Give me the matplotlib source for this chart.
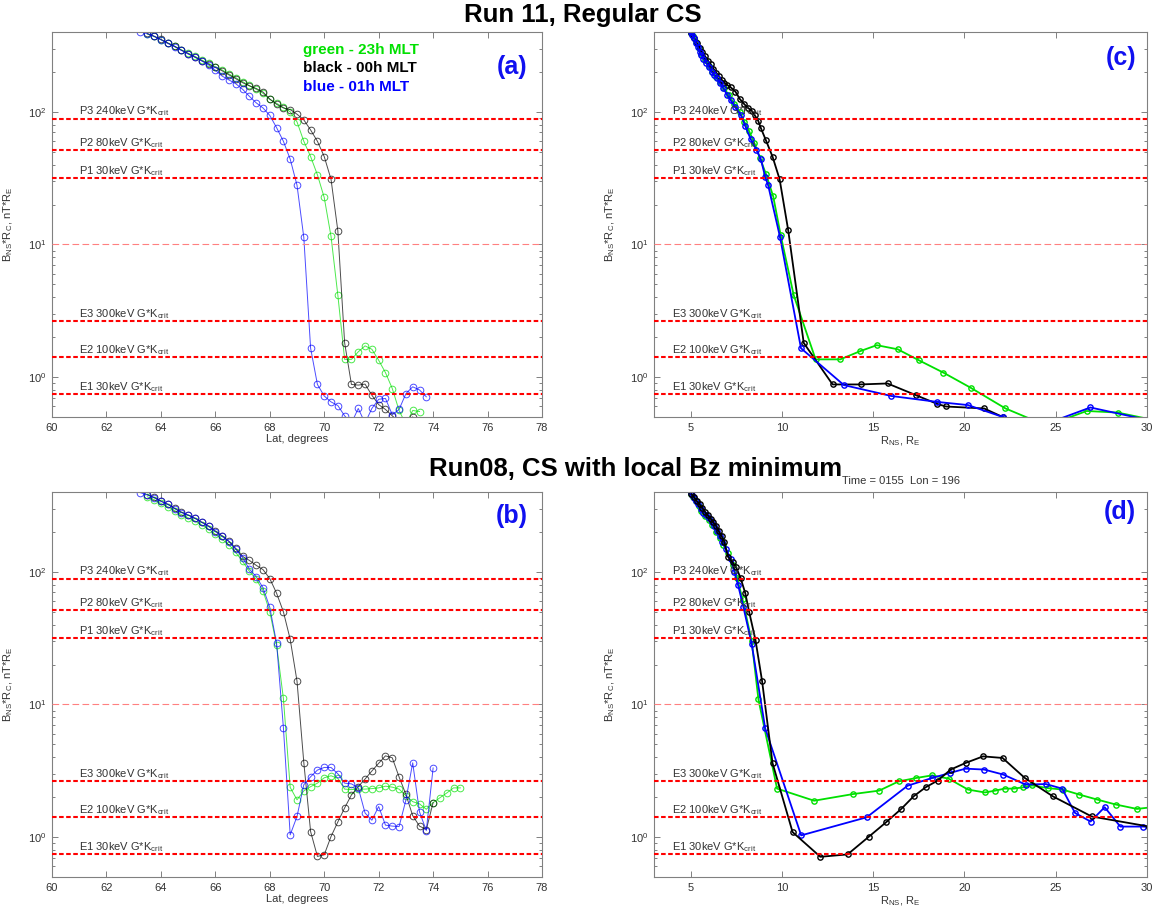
import matplotlib
matplotlib.use("Agg")
import matplotlib.pyplot as plt
from matplotlib.ticker import LogLocator, NullFormatter, FixedLocator

plt.rcParams['font.family'] = ['Liberation Sans', 'DejaVu Sans']
plt.rcParams['mathtext.default'] = 'regular'

# ---------------- data ----------------
# thresholds (G*K_crit levels)
level_names = ["P3 240keV G*K", "P2 80keV G*K", "P1 30keV G*K",
               "E3 300keV G*K", "E2 100keV G*K", "E1 30keV G*K"]
level_values = [89, 51.4, 31.5, 2.64, 1.41, 0.745]
mid_level = 10

# Panel (a): Run 11, latitude
lat_a_green = [63.5, 63.75, 64.0, 64.25, 64.5, 64.75, 65.0, 65.25, 65.5, 65.75, 66.0, 66.25,
               66.5, 66.75, 67.0, 67.25, 67.5, 67.75, 68.0, 68.25, 68.5, 68.75, 69.0, 69.25,
               69.5, 69.75, 70.0, 70.25, 70.5, 70.75, 71.0, 71.25, 71.5, 71.75, 72.0, 72.25,
               72.5, 72.75, 73.0, 73.25, 73.5]
val_a_green = [386, 370, 350, 330, 313, 294, 277, 262, 246, 232, 219, 207,
               193, 181, 169, 158, 148, 138, 124, 116, 108, 100, 84, 60,
               46, 33.5, 22.6, 11.5, 4.15, 1.36, 1.36, 1.55, 1.72, 1.62, 1.34, 1.08,
               0.82, 0.56, 0.44, 0.56, 0.55]
lat_a_black = [63.5, 63.75, 64.0, 64.25, 64.5, 64.75, 65.0, 65.25, 65.5, 65.75, 66.0, 66.25,
               66.5, 66.75, 67.0, 67.25, 67.5, 67.75, 68.0, 68.25, 68.5, 68.75, 69.0, 69.25,
               69.5, 69.75, 70.0, 70.25, 70.5, 70.75, 71.0, 71.25, 71.5, 71.75, 72.0, 72.25,
               72.5, 72.75, 73.0, 73.25]
val_a_black = [390, 372, 352, 331, 312, 292, 275, 259, 243, 229, 216, 204,
               190, 178, 166, 157, 150, 141, 125, 114, 107, 104, 96, 87,
               73, 60, 46, 31, 12.7, 1.81, 0.88, 0.87, 0.885, 0.73, 0.62, 0.57,
               0.51, 0.46, 0.46, 0.50]
lat_a_blue = [63.25, 63.5, 63.75, 64.0, 64.25, 64.5, 64.75, 65.0, 65.25, 65.5, 65.75, 66.0,
              66.25, 66.5, 66.75, 67.0, 67.25, 67.5, 67.75, 68.0, 68.25, 68.5, 68.75, 69.0,
              69.25, 69.5, 69.75, 70.0, 70.25, 70.5, 70.75, 71.0, 71.25, 71.5, 71.75, 72.0,
              72.25, 72.5, 72.75, 73.0, 73.25, 73.5, 73.75]
val_a_blue = [401, 388, 371, 350, 328, 310, 291, 273, 258, 242, 226, 206,
              186, 174, 163, 148, 131, 117, 107, 94, 76, 60, 44, 28,
              11.3, 1.65, 0.88, 0.72, 0.65, 0.61, 0.51, 0.45, 0.58, 0.45, 0.58, 0.68,
              0.69, 0.52, 0.57, 0.75, 0.845, 0.80, 0.71]

# Panel (b): Run08, latitude
lat_b_green = [63.5, 63.75, 64.0, 64.25, 64.5, 64.75, 65.0, 65.25, 65.5, 65.75, 66.0, 66.25,
               66.5, 66.75, 67.0, 67.25, 67.5, 67.75, 68.0, 68.25, 68.5, 68.75, 69.0, 69.25,
               69.5, 69.75, 70.0, 70.25, 70.5, 70.75, 71.0, 71.25, 71.5, 71.75, 72.0, 72.25,
               72.5, 72.75, 73.0, 73.25, 73.5, 73.75, 74.0, 74.25, 74.5, 74.75, 75.0]
val_b_green = [368, 350, 328, 310, 290, 270, 256, 242, 226, 210, 192, 176,
               160, 140, 120, 101, 88, 72, 50, 28, 11.1, 2.37, 1.91, 2.23,
               2.4, 2.55, 2.8, 2.9, 2.77, 2.3, 2.28, 2.3, 2.3, 2.32, 2.35, 2.42,
               2.38, 2.3, 2.05, 1.85, 1.78, 1.62, 1.82, 1.98, 2.15, 2.35, 2.35]
lat_b_black = [63.5, 63.75, 64.0, 64.25, 64.5, 64.75, 65.0, 65.25, 65.5, 65.75, 66.0, 66.25,
               66.5, 66.75, 67.0, 67.25, 67.5, 67.75, 68.0, 68.25, 68.5, 68.75, 69.0, 69.25,
               69.5, 69.75, 70.0, 70.25, 70.5, 70.75, 71.0, 71.25, 71.5, 71.75, 72.0, 72.25,
               72.5, 72.75, 73.0, 73.25, 73.5, 73.75, 74.0]
val_b_black = [382, 364, 342, 324, 302, 282, 268, 254, 237, 222, 203, 187,
               170, 150, 131, 122, 112, 104, 89, 69, 50, 31, 15, 3.65,
               1.1, 0.715, 0.735, 1.01, 1.3, 1.66, 2.08, 2.4, 2.74, 3.15, 3.6, 4.1,
               3.96, 2.84, 2.1, 1.45, 1.21, 1.14, 1.82]
lat_b_blue = [63.25, 63.5, 63.75, 64.0, 64.25, 64.5, 64.75, 65.0, 65.25, 65.5, 65.75, 66.0,
              66.25, 66.5, 66.75, 67.0, 67.25, 67.5, 67.75, 68.0, 68.25, 68.5, 68.75, 69.0,
              69.25, 69.5, 69.75, 70.0, 70.25, 70.5, 70.75, 71.0, 71.25, 71.5, 71.75, 72.0,
              72.25, 72.5, 72.75, 73.0, 73.25, 73.5, 73.75, 74.0]
val_b_blue = [395, 380, 362, 340, 323, 300, 280, 268, 253, 236, 220, 201,
              185, 169, 148, 128, 105, 92, 76, 54, 29, 6.7, 1.04, 1.43,
              2.48, 2.85, 3.2, 3.35, 3.35, 3.0, 2.55, 2.52, 2.35, 1.52, 1.34, 1.7,
              1.23, 1.21, 1.2, 1.9, 3.63, 1.55, 1.12, 3.32]

# Panel (c): Run 11, R_NS
r_c_green = [5.0, 5.15, 5.3, 5.45, 5.6, 5.8, 6.0, 6.2, 6.4, 6.6, 6.85, 7.1, 7.4, 7.7, 7.95,
             8.2, 8.5, 8.8, 9.13, 9.53, 9.94, 10.65, 11.85, 13.2, 14.3, 15.2, 16.35, 17.5,
             18.85, 20.35, 22.25, 24.5, 26.7, 28.4, 30.5]
val_c_green = [395, 370, 338, 305, 275, 245, 222, 200, 183, 168, 150, 133, 115, 100, 84,
               72, 58, 45, 34, 23, 11.7, 4.15, 1.36, 1.36, 1.57, 1.74, 1.62, 1.34,
               1.08, 0.83, 0.58, 0.43, 0.555, 0.54, 0.47]
r_c_black = [5.05, 5.2, 5.35, 5.5, 5.65, 5.8, 5.95, 6.1, 6.25, 6.4, 6.55, 6.7, 6.85, 7.0,
             7.2, 7.46, 7.7, 7.95, 8.15, 8.35, 8.52, 8.7, 8.86, 9.13, 9.49, 9.88, 10.35,
             11.2, 12.78, 14.31, 15.79, 17.35, 18.48, 18.98, 21.08, 22.1, 23.5]
val_c_black = [390, 360, 330, 305, 283, 262, 243, 228, 212, 198, 186, 175, 166, 160,
               153, 142, 125, 114, 107, 102, 94, 86, 75, 61, 46, 31, 12.8,
               1.81, 0.88, 0.88, 0.895, 0.73, 0.63, 0.60, 0.58, 0.50, 0.44]
r_c_blue = [5.0, 5.1, 5.2, 5.3, 5.4, 5.5, 5.6, 5.7, 5.85, 6.0, 6.15, 6.3, 6.45, 6.6, 6.8,
            7.0, 7.2, 7.45, 7.75, 8.0, 8.3, 8.6, 8.85, 9.1, 9.25, 9.9, 11.05, 13.4, 16.0,
            18.5, 20.2, 22.1, 24.0, 26.9, 30.5]
val_c_blue = [400, 380, 358, 330, 308, 285, 268, 250, 235, 218, 200, 188, 179, 165, 150,
              135, 122, 108, 95, 78, 62, 52, 44, 32, 28, 11.4, 1.65, 0.87, 0.72,
              0.65, 0.615, 0.50, 0.42, 0.59, 0.46]

# Panel (d): Run08, R_NS
r_d_green = [5.0, 5.15, 5.3, 5.45, 5.6, 5.8, 6.0, 6.2, 6.4, 6.6, 6.8, 7.05, 7.3, 7.55, 7.85,
             8.35, 8.72, 9.74, 11.77, 13.9, 15.33, 16.4, 17.36, 18.23, 19.13, 20.2, 21.12,
             21.69, 22.2, 22.7, 23.19, 23.72, 24.57, 25.39, 26.3, 27.26, 28.29, 29.45, 30.6]
val_d_green = [388, 365, 340, 312, 290, 265, 245, 224, 200, 180, 160, 138, 112, 90, 62,
               30, 10.9, 2.32, 1.88, 2.11, 2.24, 2.63, 2.79, 2.92, 2.76, 2.28, 2.17,
               2.24, 2.32, 2.32, 2.37, 2.45, 2.34, 2.28, 2.09, 1.92, 1.76, 1.63, 1.7]
r_d_black = [5.05, 5.2, 5.35, 5.5, 5.65, 5.8, 5.95, 6.1, 6.25, 6.4, 6.55, 6.7, 6.85, 7.05,
             7.3, 7.5, 7.74, 8.0, 8.21, 8.56, 8.92, 9.49, 10.59, 12.11, 13.6, 14.78, 15.73,
             16.54, 17.22, 17.87, 18.54, 19.25, 20.06, 21.02, 22.09, 23.31, 24.84, 26.97, 30.12]
val_d_black = [385, 365, 342, 322, 302, 282, 266, 252, 236, 222, 202, 186, 168, 130,
               118, 108, 90, 69, 50, 30.5, 15, 3.62, 1.09, 0.71, 0.74, 1.01, 1.30,
               1.63, 2.03, 2.37, 2.67, 3.23, 3.62, 4.06, 3.95, 2.79, 2.03, 1.43, 1.2]
r_d_blue = [5.0, 5.1, 5.2, 5.3, 5.4, 5.55, 5.7, 5.85, 6.0, 6.15, 6.3, 6.45, 6.6, 6.75, 6.95,
            7.2, 7.4, 7.6, 7.9, 8.35, 9.09, 11.06, 14.65, 16.89, 18.23, 19.19, 20.06, 21.08,
            22.13, 23.35, 24.47, 25.35, 26.06, 26.91, 27.68, 28.54, 29.76, 30.6]
val_d_blue = [395, 380, 362, 340, 323, 300, 280, 266, 253, 236, 221, 202, 186, 168, 148,
              125, 100, 80, 54, 28.6, 6.6, 1.03, 1.41, 2.44, 2.79, 3.04, 3.28, 3.23,
              2.96, 2.49, 2.51, 2.32, 1.52, 1.31, 1.68, 1.2, 1.2, 1.18]

legend_lines = ["green - 23h MLT", "black - 00h MLT", "blue - 01h MLT"]
panel_tags = ["(a)", "(b)", "(c)", "(d)"]

# ---------------- figure ----------------
fig = plt.figure(figsize=(11.56, 9.15), dpi=100)
W, H = 1156, 915

def rect(l, r, t, b):
    return [l / W, 1 - b / H, (r - l) / W, (b - t) / H]

ax_a = fig.add_axes(rect(52, 542, 32, 417))
ax_c = fig.add_axes(rect(654, 1147, 32, 417))
ax_b = fig.add_axes(rect(52, 542, 492, 877))
ax_d = fig.add_axes(rect(654, 1147, 492, 877))

GREEN = '#00e000'
BLUE = '#0000ff'
BLACK = '#000000'
SPINE = '#808080'
TXT = '#333333'


def style_axes(ax, latitude):
    ax.set_yscale('log')
    ax.set_ylim(0.5, 400)
    if latitude:
        ax.set_xlim(60, 78)
        ax.xaxis.set_major_locator(FixedLocator([60, 62, 64, 66, 68, 70, 72, 74, 76, 78]))
        ax.set_xlabel("Lat, degrees", fontsize=8, color=TXT)
    else:
        ax.set_xlim(3.0, 30)
        ax.xaxis.set_major_locator(FixedLocator([5, 10, 15, 20, 25, 30]))
        ax.set_xlabel(r"R$_{NS}$, R$_E$", fontsize=8, color=TXT)
    ax.yaxis.set_major_locator(LogLocator(base=10, numticks=10))
    ax.yaxis.set_minor_locator(LogLocator(base=10, subs=[2, 3, 4, 5, 6, 7, 8, 9], numticks=20))
    ax.yaxis.set_minor_formatter(NullFormatter())
    ax.set_ylabel(r"B$_{NS}$*R$_C$, nT*R$_E$", fontsize=8, color=TXT)
    ax.yaxis.set_label_coords(-0.075, 0.5)
    ax.xaxis.set_label_coords(0.5, -0.045)
    ax.tick_params(which='both', direction='in', top=True, right=True, colors=SPINE,
                   labelcolor=TXT, labelsize=8, width=0.7)
    ax.tick_params(which='major', length=4, pad=4)
    ax.tick_params(which='minor', length=2.5)
    for s in ax.spines.values():
        s.set_color(SPINE)
        s.set_linewidth(0.8)
    # thresholds
    xlab = 61.0 if latitude else 4.0
    ax.axhline(mid_level, color='#ff8080', lw=0.8, ls=(0, (6, 3)), zorder=3)
    for name, val in zip(level_names, level_values):
        ax.axhline(val, color='#ff0000', lw=1.5, ls=(0, (2.2, 1.2)), zorder=3)
        ax.text(xlab, val * 1.07, name + r"$_{crit}$", fontsize=8, color=TXT,
                va='baseline', ha='left', zorder=4)


def thin(ax, x, y, c):
    ax.plot(x, y, '-o', color=c, lw=0.7, ms=4.8, mfc='none', mew=0.7, alpha=0.7, zorder=2)


def thick(ax, x, y, c):
    ax.plot(x, y, '-o', color=c, lw=1.3, ms=3.8, mfc='none', mew=1.0, zorder=2)


style_axes(ax_a, True)
thin(ax_a, lat_a_green, val_a_green, GREEN)
thin(ax_a, lat_a_black, val_a_black, BLACK)
thin(ax_a, lat_a_blue, val_a_blue, BLUE)

style_axes(ax_b, True)
thin(ax_b, lat_b_green, val_b_green, GREEN)
thin(ax_b, lat_b_black, val_b_black, BLACK)
thin(ax_b, lat_b_blue, val_b_blue, BLUE)

style_axes(ax_c, False)
thick(ax_c, r_c_green, val_c_green, GREEN)
thick(ax_c, r_c_black, val_c_black, BLACK)
thick(ax_c, r_c_blue, val_c_blue, BLUE)

style_axes(ax_d, False)
thick(ax_d, r_d_green, val_d_green, GREEN)
thick(ax_d, r_d_blue, val_d_blue, BLUE)
thick(ax_d, r_d_black, val_d_black, BLACK)

# legend-like text in (a)
for txt, col, yy in zip(legend_lines, [GREEN, BLACK, BLUE], [0.953, 0.906, 0.857]):
    ax_a.text(0.512, yy, txt, transform=ax_a.transAxes, color=col, fontsize=11,
              fontweight='bold', va='center', ha='left')

# panel tags
tag_pos = {"(a)": (ax_a, 0.939, 0.909), "(b)": (ax_b, 0.939, 0.937),
           "(c)": (ax_c, 0.947, 0.932), "(d)": (ax_d, 0.945, 0.947)}
for t in panel_tags:
    ax, xx, yy = tag_pos[t]
    ax.text(xx, yy, t, transform=ax.transAxes, color='#1010f0', fontsize=18,
            fontweight='bold', va='center', ha='center')

# titles
fig.text(583 / W, 1 - 15 / H, "Run 11, Regular CS", fontsize=18.5, fontweight='bold',
         ha='center', va='center')
fig.text(636 / W, 1 - 469 / H, "Run08, CS with local Bz minimum", fontsize=18.5,
         fontweight='bold', ha='center', va='center')
ax_d.set_title("Time = 0155  Lon = 196", fontsize=8, color=TXT, pad=6)

fig.savefig("out.png", dpi=100)
